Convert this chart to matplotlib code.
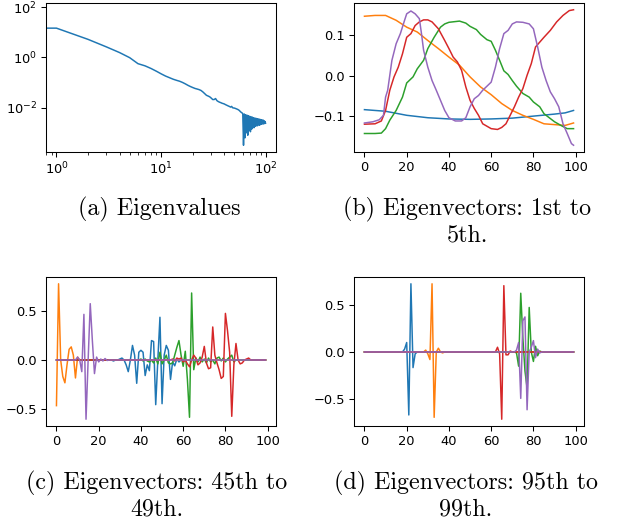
import matplotlib
matplotlib.use("Agg")
import matplotlib.pyplot as plt
import numpy as np

# ---- (a) eigenvalues, index 0..99 ----
eigvals = [78, 14.5, 5.2, 2.6, 1.55, 0.97, 0.56, 0.46, 0.36, 0.28,
           0.22, 0.18, 0.155, 0.135, 0.122, 0.112, 0.10, 0.088, 0.077, 0.069,
           0.063, 0.058, 0.055, 0.052, 0.048, 0.042, 0.036, 0.031, 0.029, 0.027,
           0.024, 0.021, 0.021, 0.023, 0.019, 0.0175, 0.0165, 0.0158, 0.015, 0.0145,
           0.014, 0.0132, 0.0126, 0.012, 0.0115, 0.011, 0.0105, 0.0112, 0.0099, 0.0097,
           0.0096, 0.0093, 0.009, 0.0087, 0.0084, 0.008, 0.0075, 0.0069, 0.0065, 0.0062,
           5.75e-3, 3.2e-4, 5.6e-3, 6.3e-4, 5.2e-3, 1.0e-3, 5.0e-3, 8e-4, 4.8e-3, 1.26e-3,
           4.5e-3, 1.1e-3, 4.3e-3, 1.4e-3, 4.2e-3, 1.6e-3, 4.0e-3, 1.6e-3, 3.8e-3, 1.8e-3,
           3.8e-3, 1.9e-3, 3.6e-3, 1.9e-3, 3.55e-3, 2.1e-3, 3.5e-3, 2.0e-3, 3.4e-3, 2.2e-3,
           3.3e-3, 2.2e-3, 3.2e-3, 2.3e-3, 3.2e-3, 2.25e-3, 3.0e-3, 2.35e-3, 2.8e-3, 2.4e-3]

# ---- (b) eigenvectors 1..5 ----
b1_x = [0, 10, 20, 30, 40, 50, 60, 70, 80, 90, 95, 99]
b1_y = [-0.084, -0.088, -0.098, -0.104, -0.107, -0.108, -0.107, -0.105, -0.100, -0.095, -0.092, -0.086]
b2_x = [0, 5, 10, 15, 20, 25, 30, 35, 40, 45, 50, 55, 60, 65, 70, 75, 80, 85, 90, 95, 99]
b2_y = [0.147, 0.149, 0.149, 0.137, 0.12, 0.108, 0.087, 0.067, 0.046, 0.026, -0.003, -0.028,
        -0.047, -0.069, -0.086, -0.098, -0.108, -0.119, -0.121, -0.123, -0.117]
b3_x = [0, 5, 8, 10, 12, 15, 18, 20, 23, 25, 28, 30, 33, 36, 38, 40, 45, 48, 50, 53, 55, 58,
        60, 62, 64, 66, 68, 70, 72, 75, 78, 80, 83, 85, 88, 90, 93, 96, 99]
b3_y = [-0.143, -0.143, -0.142, -0.131, -0.110, -0.086, -0.053, -0.018, -0.003, 0.017, 0.038,
        0.067, 0.095, 0.12, 0.128, 0.132, 0.135, 0.13, 0.122, 0.114, 0.102, 0.089, 0.085, 0.063,
        0.038, 0.012, 0.003, -0.012, -0.026, -0.044, -0.053, -0.065, -0.077, -0.094, -0.106,
        -0.114, -0.123, -0.131, -0.131]
b4_x = [0, 5, 8, 10, 12, 14, 16, 18, 20, 22, 24, 26, 28, 30, 32, 35, 38, 40, 42, 44, 46, 48,
        50, 52, 54, 56, 58, 60, 63, 65, 67, 69, 71, 73, 75, 77, 79, 81, 83, 85, 88, 91, 94, 97, 99]
b4_y = [-0.12, -0.119, -0.112, -0.086, -0.036, -0.003, 0.021, 0.054, 0.095, 0.104, 0.124, 0.133,
        0.138, 0.138, 0.133, 0.116, 0.087, 0.067, 0.046, 0.034, 0.013, -0.028, -0.061, -0.081,
        -0.098, -0.119, -0.125, -0.131, -0.133, -0.128, -0.119, -0.098, -0.077, -0.053, -0.032,
        0.001, 0.030, 0.071, 0.083, 0.095, 0.112, 0.133, 0.149, 0.161, 0.163]
b5_x = [0, 4, 7, 9, 10, 11, 13, 15, 17, 19, 20, 22, 24, 26, 27, 28, 30, 32, 34, 36, 38, 40, 43,
        46, 48, 50, 52, 54, 56, 58, 60, 62, 64, 66, 68, 70, 72, 75, 78, 80, 82, 84, 86, 88, 90,
        92, 94, 96, 98, 99]
b5_y = [-0.117, -0.114, -0.109, -0.098, -0.053, -0.036, 0.038, 0.079, 0.104, 0.137, 0.153, 0.16,
        0.153, 0.141, 0.104, 0.063, 0.021, -0.012, -0.036, -0.061, -0.086, -0.104, -0.112, -0.112,
        -0.104, -0.077, -0.057, -0.049, -0.036, -0.026, -0.016, 0.021, 0.067, 0.104, 0.112, 0.128,
        0.133, 0.132, 0.128, 0.116, 0.071, 0.021, -0.012, -0.04, -0.057, -0.077, -0.119, -0.143,
        -0.168, -0.172]

# ---- (c) eigenvectors 45..49 ----
c1_x = [0] + list(range(26, 61)) + [99]
c1_y = [0, 0, -0.01, 0.0, 0.0, 0.01, 0.02, 0.0, -0.05, -0.12, 0.0, 0.15, 0.05, -0.24, 0.08, 0.1,
        0.08, -0.16, -0.05, -0.11, 0.2, 0.19, -0.46, 0.0, 0.44, -0.45, 0.05, 0.15, 0.1, -0.2,
        -0.02, -0.06, 0.01, -0.02, 0.0, 0, 0]
c2_x = list(range(0, 13)) + [99]
c2_y = [-0.47, 0.785, 0.0, -0.17, -0.235, -0.05, 0.11, 0.135, 0.05, -0.185, 0.03, 0.0, 0.0, 0]
c3_x = [0] + list(range(39, 87)) + [99]
c3_y = [0, 0.0, 0.01, -0.01, 0.01, -0.01, -0.02, 0.0, -0.03, 0.02, -0.04, 0.08, -0.04, 0.0,
        0.05, -0.03, -0.04, -0.03, 0.05, 0.13, 0.2, 0.05, -0.065, 0.09, -0.2, -0.59, 0.69, -0.1,
        0.02, -0.02, 0.03, -0.02, 0.01, -0.03, 0.02, -0.02, 0.0, -0.04, 0.02, 0.03, -0.01, 0.02,
        -0.02, 0.01, 0.03, 0.05, -0.02, 0.0, 0.0, 0]
c4_x = [0] + list(range(54, 94)) + [99]
c4_y = [0, 0.0, 0.01, -0.01, 0.02, 0.01, 0.02, -0.02, 0.0, -0.04, -0.07, 0.0, 0.05, 0.02, -0.05,
        -0.03, 0.03, 0.14, -0.03, -0.09, -0.08, 0.34, 0.05, -0.03, -0.1, -0.19, -0.17, 0.48, 0.3,
        0.08, -0.58, -0.05, 0.17, 0.0, -0.04, -0.03, 0.0, 0.01, 0.02, 0.0, 0.0, 0]
c5_x = [0] + list(range(9, 26)) + [99]
c5_y = [0, 0.0, 0.03, 0.0, -0.12, 0.47, -0.61, 0.0, 0.58, 0.2, -0.14, 0.03, -0.02, 0.01, -0.01,
        0.015, -0.005, 0.0, 0]

# ---- (d) eigenvectors 95..99 ----
d1_x = [0] + list(range(18, 26)) + [99]
d1_y = [0, 0.0, 0.03, 0.1, -0.665, 0.72, -0.165, -0.02, 0.0, 0]
d2_x = [0] + list(range(28, 39)) + [99]
d2_y = [0, 0.0, 0.02, -0.02, -0.08, 0.72, -0.69, 0.0, 0.04, 0.0, -0.01, 0.0, 0]
d3_x = [0] + list(range(71, 85)) + [99]
d3_y = [0, 0.0, -0.01, -0.15, 0.62, 0.15, -0.2, -0.38, 0.47, 0.0, -0.1, 0.06, -0.04, 0.01, 0.0, 0]
d4_x = [0] + list(range(62, 71)) + [99]
d4_y = [0, 0.0, 0.05, -0.02, -0.71, 0.7, -0.03, -0.03, 0.01, 0.0, 0]
d5_x = [0] + list(range(71, 85)) + [99]
d5_y = [0, 0.0, 0.02, 0.1, -0.49, 0.33, 0.37, -0.61, 0.0, 0.05, 0.12, -0.06, 0.03, -0.01, 0.0, 0]

captions = [("(a) Eigenvalues", ""),
            ("(b) Eigenvectors: 1st to", "5th."),
            ("(c) Eigenvectors: 45th to", "49th."),
            ("(d) Eigenvectors: 95th to", "99th.")]

DPI = 94
W, H = 621, 523
plt.rcParams["lines.linewidth"] = 1.15
fig = plt.figure(figsize=(W / DPI, H / DPI), dpi=DPI)


def px_axes(x0, y0, x1, y1):
    return fig.add_axes([x0 / W, 1 - y1 / H, (x1 - x0) / W, (y1 - y0) / H])


ax_a = px_axes(46, 3, 276, 152)
ax_b = px_axes(354, 3, 584, 152)
ax_c = px_axes(46, 277, 276, 426)
ax_d = px_axes(354, 277, 584, 426)

ax_a.loglog(np.arange(len(eigvals)), eigvals)
ax_a.yaxis.set_minor_locator(matplotlib.ticker.NullLocator())

for xs, ys in [(b1_x, b1_y), (b2_x, b2_y), (b3_x, b3_y), (b4_x, b4_y), (b5_x, b5_y)]:
    ax_b.plot(xs, ys)
for xs, ys in [(c1_x, c1_y), (c2_x, c2_y), (c3_x, c3_y), (c4_x, c4_y), (c5_x, c5_y)]:
    ax_c.plot(xs, ys)
for xs, ys in [(d1_x, d1_y), (d2_x, d2_y), (d3_x, d3_y), (d4_x, d4_y), (d5_x, d5_y)]:
    ax_d.plot(xs, ys)

for ax in [ax_b, ax_c, ax_d]:
    ax.set_xticks([0, 20, 40, 60, 80, 100])

# captions under each panel, LaTeX-like serif
cap_pos = [(159, 215), (467, 215), (157, 489), (466, 489)]
for (l1, l2), (cx, cy) in zip(captions, cap_pos):
    fig.text(cx / W, 1 - cy / H, l1, ha="center", va="baseline", family="cmr10", fontsize=18.4)
    if l2:
        fig.text(cx / W, 1 - (cy + 26) / H, l2, ha="center", va="baseline", family="cmr10", fontsize=18.4)

plt.savefig("out.png", dpi=DPI)
